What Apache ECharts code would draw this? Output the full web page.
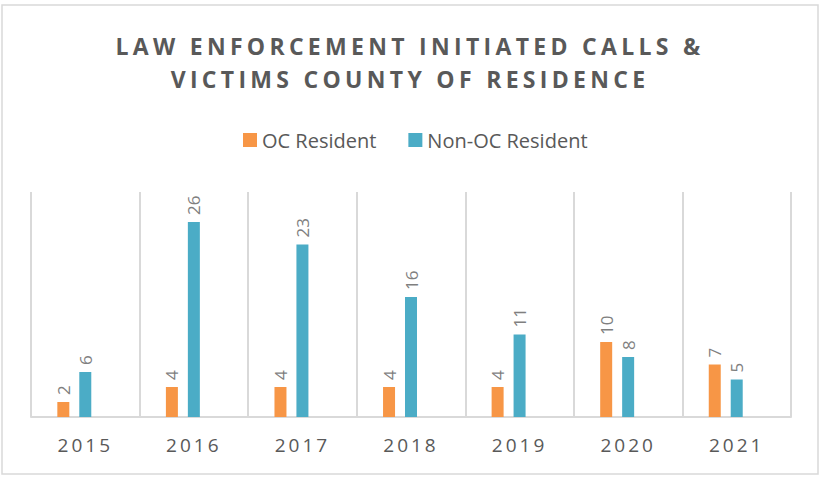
<!DOCTYPE html>
<html>
<head>
<meta charset="utf-8">
<script src="https://cdn.jsdelivr.net/npm/echarts@6/dist/echarts.min.js"></script>
<style>
  html, body { margin: 0; padding: 0; background: #fff; }
  #chart { width: 820px; height: 478px; }
</style>
</head>
<body>
<div id="chart"></div>
<script>
const titleLines = ['LAW ENFORCEMENT INITIATED CALLS &', 'VICTIMS COUNTY OF RESIDENCE']
const years = ['2015', '2016', '2017', '2018', '2019', '2020', '2021']
const ocResident = [2, 4, 4, 4, 4, 10, 7]
const nonOcResident = [6, 26, 23, 16, 11, 8, 5]
// Excel reserved a third (empty) bar slot in every group
const emptySlot = []

const labelStyle = {
  show: true,
  position: 'top',
  rotate: 90,
  align: 'left',
  verticalAlign: 'middle',
  distance: 7,
  color: '#7F7F7F',
  fontFamily: 'Open Sans',
  fontSize: 17
}

const chart = echarts.init(document.getElementById('chart'), null, { renderer: 'svg' })

chart.setOption({
  animation: false,
  graphic: [{
    type: 'rect',
    shape: { x: 2, y: 5, width: 816, height: 469 },
    style: { fill: 'none', stroke: '#D9D9D9', lineWidth: 1.5 },
    silent: true
  }],
  title: {
    text: titleLines.join('\n'),
    left: 'center',
    top: 24,
    textStyle: {
      fontFamily: 'Open Sans',
      fontWeight: 'bold',
      fontSize: 23,
      lineHeight: 33,
      color: '#595959'
    }
  },
  legend: {
    data: ['OC Resident', 'Non-OC Resident'],
    top: 125,
    left: 238,
    icon: 'rect',
    itemWidth: 14,
    itemHeight: 14,
    itemGap: 32,
    textStyle: { fontFamily: 'Open Sans', fontSize: 20, color: '#595959' }
  },
  grid: { left: 31, right: 29, top: 192, bottom: 61 },
  xAxis: {
    type: 'category',
    data: years,
    axisLine: { lineStyle: { color: '#D9D9D9', width: 2 } },
    axisTick: { show: false },
    splitLine: { show: true, interval: 0, lineStyle: { color: '#D9D9D9', width: 2 } },
    axisLabel: {
      margin: 18,
      fontFamily: 'Open Sans',
      fontSize: 19,
      color: '#595959'
    }
  },
  yAxis: {
    type: 'value',
    min: 0,
    max: 30,
    show: false,
    splitLine: { show: false }
  },
  series: [
    {
      name: 'OC Resident',
      type: 'bar',
      data: ocResident,
      barWidth: 12,
      barGap: '83%',
      itemStyle: { color: '#F79646' },
      label: labelStyle
    },
    {
      name: 'Non-OC Resident',
      type: 'bar',
      data: nonOcResident,
      barWidth: 12,
      barGap: '83%',
      itemStyle: { color: '#4BACC6' },
      label: labelStyle
    },
    {
      name: 'spacer',
      type: 'bar',
      data: emptySlot,
      barWidth: 12,
      barGap: '83%'
    }
  ]
})

// the original uses tracked (letter-spaced) title and year labels
const addTracking = () => {
  document.querySelectorAll('#chart svg text').forEach(t => {
    const s = t.textContent.trim()
    if (titleLines.includes(s)) t.setAttribute('letter-spacing', '4.3')
    else if (years.includes(s)) t.setAttribute('letter-spacing', '3')
  })
}
addTracking()
chart.on('finished', addTracking)
</script>
</body>
</html>
